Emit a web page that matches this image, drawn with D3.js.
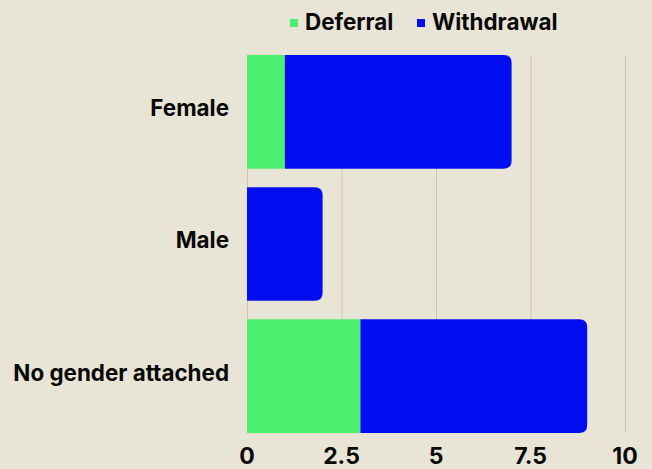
<!DOCTYPE html>
<html>
<head>
<meta charset="utf-8">
<script src="https://cdn.jsdelivr.net/npm/d3@7"></script>
<style>
  body { margin: 0; background: #e9e5d6; }
  svg { display: block; font-family: Inter, "Noto Sans", sans-serif; }
</style>
</head>
<body>
<script>
const width = 652, height = 469;
const margin = {top: 55, right: 27, bottom: 36, left: 247};

const categories = ['Female', 'Male', 'No gender attached'];
const seriesNames = ['Deferral', 'Withdrawal'];
const deferral = [1, 0, 3];
const withdrawal = [6, 2, 6];
const xTicks = [0, 2.5, 5, 7.5, 10];
const colors = ['#4bf06f', '#020ef0'];

const rows = categories.map((c, i) => ({cat: c, Deferral: deferral[i], Withdrawal: withdrawal[i]}));
const stacked = d3.stack().keys(seriesNames)(rows);

const svg = d3.select('body').append('svg')
    .attr('width', width)
    .attr('height', height);

const x = d3.scaleLinear().domain([0, 10]).range([margin.left, width - margin.right]);
const y = d3.scaleBand().domain(categories).range([margin.top, height - margin.bottom]).paddingInner(0.14).paddingOuter(0);

// grid
svg.append('g')
    .selectAll('line')
    .data(xTicks)
    .join('line')
    .attr('x1', d => x(d) + 0.5)
    .attr('x2', d => x(d) + 0.5)
    .attr('y1', y.range()[0])
    .attr('y2', y.range()[1])
    .attr('stroke', '#c9c4b6')
    .attr('stroke-width', 1);

// rounded only at the right end of each stack
function barPath(x0, x1, y0, h, round) {
    const r = round ? Math.min(8, (x1 - x0) / 2) : 0;
    return 'M' + x0 + ',' + y0 +
        'H' + (x1 - r) +
        (r ? 'Q' + x1 + ',' + y0 + ' ' + x1 + ',' + (y0 + r) : '') +
        'V' + (y0 + h - r) +
        (r ? 'Q' + x1 + ',' + (y0 + h) + ' ' + (x1 - r) + ',' + (y0 + h) : '') +
        'H' + x0 + 'Z';
}

stacked.forEach((layer, li) => {
    svg.append('g')
        .attr('fill', colors[li])
        .selectAll('path')
        .data(layer.filter(d => d[1] > d[0]))
        .join('path')
        .attr('d', d => {
            const isLast = li === stacked.length - 1;
            return barPath(x(d[0]), x(d[1]), y(d.data.cat), y.bandwidth(), isLast);
        });
});

// x axis labels
svg.append('g')
    .selectAll('text')
    .data(xTicks)
    .join('text')
    .attr('x', d => x(d))
    .attr('y', 464)
    .attr('text-anchor', 'middle')
    .attr('font-size', 23)
    .attr('font-weight', 700)
    .attr('fill', '#0a0a0a')
    .text(d => d);

// y labels
svg.append('g')
    .selectAll('text')
    .data(categories)
    .join('text')
    .attr('x', 229)
    .attr('y', d => y(d) + y.bandwidth() / 2)
    .attr('dy', '0.2em')
    .attr('text-anchor', 'end')
    .attr('font-size', 22.4)
    .attr('font-weight', 700)
    .attr('fill', '#0a0a0a')
    .text(d => d);

// legend
const legendX = [290, 417];
const legend = svg.append('g')
    .selectAll('g')
    .data(seriesNames)
    .join('g')
    .attr('transform', (d, i) => 'translate(' + legendX[i] + ',0)');

legend.append('rect')
    .attr('x', 0)
    .attr('y', 19)
    .attr('width', 8)
    .attr('height', 8)
    .attr('fill', (d, i) => colors[i]);

legend.append('text')
    .attr('x', 15)
    .attr('y', 30)
    .attr('font-size', 22.4)
    .attr('font-weight', 700)
    .attr('fill', '#0a0a0a')
    .text(d => d);
</script>
</body>
</html>
